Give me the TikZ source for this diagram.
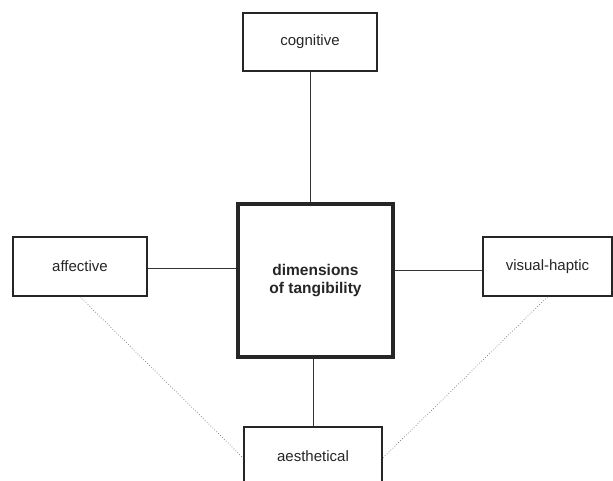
\documentclass[tikz,border=0pt]{standalone}
\usepackage{fontspec}
\setmainfont{Liberation Sans}
\begin{document}
\begin{tikzpicture}[x=1pt,y=-1pt,
  dimbox/.style={draw=black!85, line width=1.6pt, fill=white, inner sep=0pt, font=\fontsize{15}{18}\selectfont, text=black!85},
  corebox/.style={draw=black!85, line width=3.6pt, fill=white, inner sep=0pt, align=center, font=\fontsize{15.5}{18.5}\selectfont\bfseries, text=black!85},
  link/.style={draw=black!80, line width=0.9pt},
  weak/.style={draw=black!55, line width=0.7pt, dotted}]
\useasboundingbox (0,0) rectangle (613,481);
\node[corebox, minimum width=155pt, minimum height=153pt] (cen) at (315.5,280.5) {dimensions\\of tangibility};
\node[dimbox, minimum width=134pt, minimum height=58pt] (cog) at (310,42) {cognitive};
\node[dimbox, minimum width=134pt, minimum height=59pt] (aff) at (80,266.5) {affective};
\node[dimbox, minimum width=129pt, minimum height=59pt] (vis) at (547.5,266.5) {visual-haptic};
\node[dimbox, minimum width=138pt, minimum height=58pt, text depth=0pt] (aes) at (313,456) {aesthetical};
\draw[link] (cog.south) -- (cog.south |- cen.north);
\draw[link] (aes.north) -- (aes.north |- cen.south);
\draw[link] ([yshift=-1.5pt]aff.east) -- ([yshift=-1.5pt]aff.east -| cen.west);
\draw[link] ([yshift=-3.5pt]vis.west) -- ([yshift=-3.5pt]vis.west -| cen.east);
\draw[weak] (aff.south) -- ([yshift=-2pt]aes.west);
\draw[weak] (vis.south) -- ([yshift=-2pt]aes.east);
\end{tikzpicture}
\end{document}
